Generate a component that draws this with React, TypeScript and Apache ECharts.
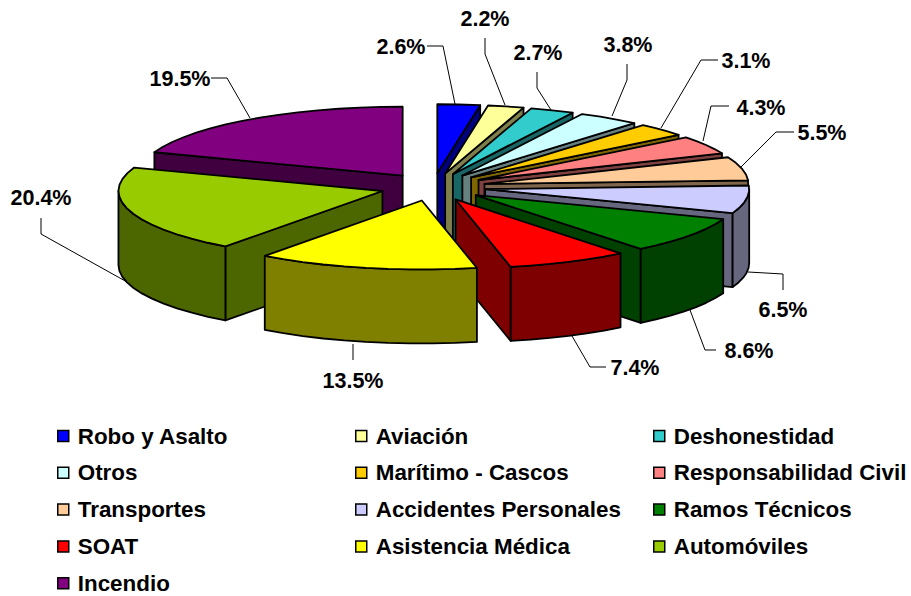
import React, { useEffect, useRef } from "react";
import * as echarts from "echarts";

const categories = ["Robo y Asalto","Aviación","Deshonestidad","Otros","Marítimo - Cascos","Responsabilidad Civil","Transportes","Accidentes Personales","Ramos Técnicos","SOAT","Asistencia Médica","Automóviles","Incendio"];
const shares = [2.6,2.2,2.7,3.8,3.1,4.3,5.5,6.5,8.6,7.4,13.5,20.4,19.5];
const topColors = ["#0000FF","#FFFF99","#33CCCC","#CCFFFF","#FFCC00","#FF8080","#FFCC99","#CCCCFF","#008000","#FF0000","#FFFF00","#99CC00","#800080"];
const wallColors = ["#00007F","#7F7F4C","#196666","#667F7F","#7F6600","#7F4040","#7F664C","#66667F","#004000","#7F0000","#7F7F00","#4C6600","#400040"];

// Leader layout per slice: text centre, then the polyline from text to rim
const labelLayout: { t: [number, number]; l: [number, number][] }[] = [
  { t: [401, 47], l: [[427,46],[443,46],[455,104]] },
  { t: [485, 19], l: [[485,38],[485,54],[505,105]] },
  { t: [538, 53], l: [[537,72],[537,88],[551,110]] },
  { t: [628, 45], l: [[627,64],[627,80],[612,116]] },
  { t: [746, 61], l: [[718,60],[701,60],[661,128]] },
  { t: [761, 108], l: [[729,106],[711,106],[703,141]] },
  { t: [822, 133], l: [[794,132],[776,132],[740,168]] },
  { t: [783, 310], l: [[783,290],[783,274],[748,272]] },
  { t: [749, 351], l: [[716,350],[705,350],[690,310]] },
  { t: [635, 368], l: [[606,367],[590,367],[572,336]] },
  { t: [353, 381], l: [[353,360],[353,344]] },
  { t: [41, 198], l: [[41,218],[41,234],[127,282]] },
  { t: [180, 79], l: [[211,78],[227,78],[250,118]] },
];

const CX = 433, CY = 187, RX = 264, RY = 69, EXPLODE = 0.2, DEPTH = 74;
const FONT = '"Liberation Sans", Arial, sans-serif';
const total = shares.reduce((a, b) => a + b, 0);
const rad = (d: number) => (d * Math.PI) / 180;

let acc = 0;
const spans = shares.map((s) => {
  const a0 = (acc / total) * 360;
  acc += s;
  return [a0, (acc / total) * 360];
});
// painter's order: far slices first
const depthRank = spans
  .map((s, i) => ({ i, c: Math.cos(rad((s[0] + s[1]) / 2)) }))
  .sort((a, b) => b.c - a.c)
  .reduce((m: Record<number, number>, o, r) => { m[o.i] = r; return m; }, {});

function arcPoints(ax: number, ay: number, a0: number, a1: number, dy = 0) {
  const n = Math.max(2, Math.ceil((a1 - a0) / 5));
  const pts: number[][] = [];
  for (let k = 0; k <= n; k++) {
    const a = rad(a0 + ((a1 - a0) * k) / n);
    pts.push([ax + RX * Math.sin(a), ay - RY * Math.cos(a) + dy]);
  }
  return pts;
}

function sliceRenderer(idx: number) {
  return (_p: any, api: any) => {
    const a0 = api.value(0), a1 = api.value(1);
    const mid = rad((a0 + a1) / 2);
    const ax = CX + EXPLODE * RX * Math.sin(mid);
    const ay = CY - EXPLODE * RY * Math.cos(mid);
    const stroke = { stroke: "#000", lineWidth: 1.8, lineJoin: "round" };
    const wall = { ...stroke, fill: wallColors[idx] };
    const children: any[] = [];
    const rim = (a: number) => [ax + RX * Math.sin(rad(a)), ay - RY * Math.cos(rad(a))];
    const radial = (a: number) => {
      const r = rim(a);
      children.push({ type: "polygon", shape: { points: [[ax, ay], r, [r[0], r[1] + DEPTH], [ax, ay + DEPTH]] }, style: wall });
    };
    if (Math.sin(rad(a0)) < -1e-6) radial(a0);
    if (Math.sin(rad(a1)) > 1e-6) radial(a1);
    const w0 = Math.max(a0, 90), w1 = Math.min(a1, 270);
    if (w1 > w0) {
      const up = arcPoints(ax, ay, w0, w1);
      const down = arcPoints(ax, ay, w0, w1, DEPTH).reverse();
      children.push({ type: "polygon", shape: { points: up.concat(down) }, style: wall });
    }
    children.push({
      type: "polygon",
      shape: { points: [[ax, ay], ...arcPoints(ax, ay, a0, a1)] },
      style: { ...stroke, fill: topColors[idx] },
    });
    return { type: "group", children };
  };
}

function labelRenderer(_p: any, api: any) {
  const i = api.value(0);
  const lay = labelLayout[i];
  return {
    type: "group",
    children: [
      { type: "polyline", shape: { points: lay.l }, style: { stroke: "#000", lineWidth: 1, fill: "none" } },
      {
        type: "text",
        style: {
          text: shares[i].toFixed(1) + "%",
          x: lay.t[0], y: lay.t[1], align: "center", verticalAlign: "middle",
          font: `bold 21.5px ${FONT}`, fill: "#000",
        },
      },
    ],
  };
}

const legendCols = [
  { left: 57, items: [0, 3, 6, 9, 12] },
  { left: 355, items: [1, 4, 7, 10] },
  { left: 653, items: [2, 5, 8, 11] },
];

export default function App() {
  const ref = useRef<HTMLDivElement>(null);
  useEffect(() => {
    document.body.style.margin = "0";
    document.body.style.background = "#fff";
    const chart = echarts.init(ref.current!, null, { renderer: "svg" });
    const series: any[] = categories.map((name, i) => ({
      type: "custom",
      name,
      coordinateSystem: "none",
      silent: true,
      z: 2 + depthRank[i],
      itemStyle: { color: topColors[i] },
      data: [spans[i]],
      renderItem: sliceRenderer(i),
    }));
    series.push({
      type: "custom",
      name: "labels",
      coordinateSystem: "none",
      silent: true,
      z: 50,
      data: shares.map((_, i) => [i]),
      renderItem: labelRenderer,
    });
    chart.setOption({
      animation: false,
      backgroundColor: "#fff",
      legend: legendCols.map((c) => ({
        orient: "vertical",
        left: c.left,
        top: 425,
        height: 171,
        itemWidth: 11,
        itemHeight: 11,
        itemGap: 14.8,
        icon: "rect",
        padding: 0,
        selectedMode: false,
        itemStyle: { borderColor: "#000", borderWidth: 1.5 },
        textStyle: { fontFamily: FONT, fontWeight: "bold", fontSize: 22.4, color: "#000", padding: [0, 0, 0, 4], lineHeight: 20 },
        data: c.items.map((i) => categories[i]),
      })),
      series,
    });
    return () => chart.dispose();
  }, []);
  return <div ref={ref} style={{ width: 911, height: 596 }} />;
}
